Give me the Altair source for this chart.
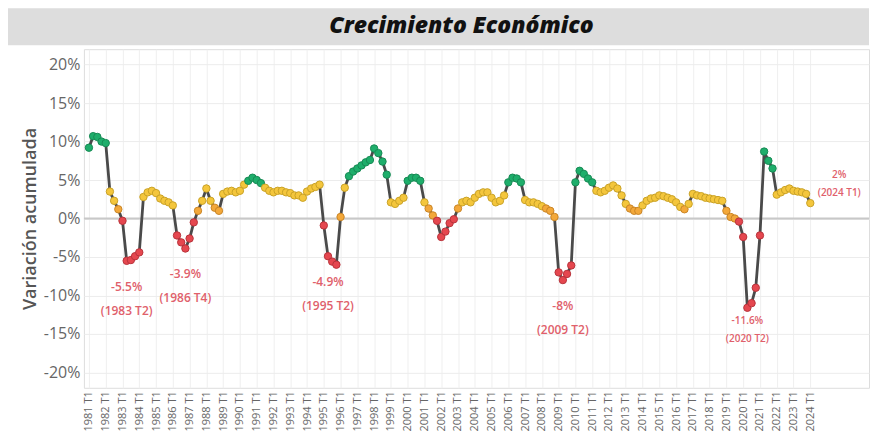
import altair as alt
import pandas as pd

# ---- data ----
first_year = 1981
values = [
    9.2, 10.7, 10.6, 10.0,    # 1981
    9.8, 3.5, 2.3, 1.2,       # 1982
    -0.3, -5.5, -5.4, -4.9,   # 1983
    -4.4, 2.8, 3.4, 3.6,      # 1984
    3.3, 2.6, 2.3, 2.1,       # 1985
    1.7, -2.2, -3.1, -3.9,    # 1986
    -2.6, -0.5, 1.0, 2.3,     # 1987
    3.9, 2.3, 1.4, 1.0,       # 1988
    3.2, 3.5, 3.6, 3.4,       # 1989
    3.6, 4.4, 4.9, 5.3,       # 1990
    5.0, 4.6, 4.0, 3.6,       # 1991
    3.4, 3.6, 3.6, 3.4,       # 1992
    3.3, 3.0, 3.0, 2.7,       # 1993
    3.5, 3.9, 4.1, 4.4,       # 1994
    -0.9, -4.9, -5.6, -6.0,   # 1995
    0.2, 4.0, 5.5, 6.1,       # 1996
    6.5, 6.9, 7.3, 7.6,       # 1997
    9.1, 8.5, 7.4, 5.7,       # 1998
    2.1, 1.9, 2.3, 2.7,       # 1999
    4.9, 5.3, 5.3, 4.9,       # 2000
    2.1, 1.3, 0.4, -0.3,      # 2001
    -2.4, -1.7, -0.6, -0.1,   # 2002
    1.3, 2.1, 2.3, 2.1,       # 2003
    2.7, 3.2, 3.4, 3.4,       # 2004
    2.7, 2.1, 2.3, 3.0,       # 2005
    4.7, 5.3, 5.2, 4.7,       # 2006
    2.4, 2.1, 2.1, 1.9,       # 2007
    1.6, 1.3, 1.0, 0.2,       # 2008
    -7.0, -8.0, -7.2, -6.1,   # 2009
    4.7, 6.2, 5.8, 5.2,       # 2010
    4.7, 3.6, 3.4, 3.6,       # 2011
    4.0, 4.3, 3.9, 3.0,       # 2012
    1.9, 1.3, 1.0, 1.0,       # 2013
    1.7, 2.3, 2.6, 2.7,       # 2014
    3.0, 2.9, 2.7, 2.5,       # 2015
    2.1, 1.5, 1.2, 1.9,       # 2016
    3.2, 3.0, 2.9, 2.7,       # 2017
    2.6, 2.5, 2.4, 2.3,       # 2018
    1.0, 0.2, 0.0, -0.4,      # 2019
    -2.4, -11.6, -11.0, -9.0, # 2020
    -2.2, 8.7, 7.5, 6.5,      # 2021
    3.1, 3.4, 3.7, 3.9,       # 2022
    3.6, 3.5, 3.4, 3.2,       # 2023
    2.0,                      # 2024
]
y_ticks = [-20, -15, -10, -5, 0, 5, 10, 15, 20]

ann_quarters = ["1983 T2", "1986 T4", "1995 T2", "2009 T2", "2020 T2", "2024 T1"]
ann_values = [-5.5, -3.9, -4.9, -8, -11.6, 2]

title_text = "Crecimiento Económico"
y_title = "Variación acumulada"

# ---- tables ----
idx = list(range(len(values)))
quarters = [f"{first_year + i // 4} T{i % 4 + 1}" for i in idx]
df = pd.DataFrame({"idx": idx, "trimestre": quarters, "valor": values})

ann = pd.DataFrame({
    "trimestre": ann_quarters,
    "valor": ann_values,
    "idx": [quarters.index(q) for q in ann_quarters],
    "l1": [f"{v:g}%" for v in ann_values],
    "l2": [f"({q})" for q in ann_quarters],
})

W, H = 786, 339
FONT = "Open Sans"
ANN_COLOR = "#e0606b"

x_enc = alt.X(
    "idx:Q",
    scale=alt.Scale(domain=[-1.2, 186], nice=False, zero=False),
    axis=alt.Axis(
        values=[i for i in idx if i % 4 == 0],
        labelExpr=f"floor({first_year} + datum.value / 4) + ' T1'",
        labelAngle=270,
        labelFontSize=11,
        labelColor="#666666",
        labelPadding=3,
        labelOverlap=False,
        title=None,
        grid=True,
        gridColor="#efefef",
        ticks=False,
        domain=False,
    ),
)
y_enc = alt.Y(
    "valor:Q",
    scale=alt.Scale(domain=[-22, 22], nice=False),
    axis=alt.Axis(
        values=y_ticks,
        labelExpr="datum.value + '%'",
        labelFontSize=16,
        labelColor="#666666",
        labelPadding=4,
        title=y_title,
        titleFontSize=18,
        titleFontWeight=600,
        titleColor="#555555",
        titlePadding=4,
        grid=True,
        gridColor="#ececec",
        ticks=False,
        domain=False,
    ),
)

fill_scale = alt.Scale(type="threshold", domain=[0, 1.5, 4.6],
                       range=["#e5474f", "#f3a83a", "#f4c63c", "#1eae6b"])
stroke_scale = alt.Scale(type="threshold", domain=[0, 1.5, 4.6],
                         range=["#b8333b", "#c98526", "#c9a227", "#178a54"])

one = alt.Data(values=[{"t": title_text}])

bar = alt.Chart(one).mark_rect(color="#dddddd").encode(
    x=alt.value(-76), x2=alt.value(W), y=alt.value(-41), y2=alt.value(-4)
)
title = alt.Chart(one).mark_text(
    font=FONT, fontSize=23, fontWeight=800, fontStyle="italic",
    color="#111111", align="center", baseline="middle"
).encode(x=alt.value(378), y=alt.value(-23), text="t:N")

zero = alt.Chart(one).mark_rule(color="#c8c8c8", strokeWidth=2).encode(
    y=alt.datum(0)
)

base = alt.Chart(df)
line = base.mark_line(color="#4a4a4a", strokeWidth=2.8).encode(x=x_enc, y=y_enc)
pts = base.mark_circle(size=55, opacity=1, strokeWidth=1).encode(
    x=x_enc, y=y_enc,
    fill=alt.Fill("valor:Q", scale=fill_scale, legend=None),
    stroke=alt.Stroke("valor:Q", scale=stroke_scale, legend=None),
)

abase = alt.Chart(ann)
troughs = ann_quarters[:4]
txt_kw = dict(font=FONT, color=ANN_COLOR, fontWeight=600, align="center", baseline="middle")

t1 = abase.transform_filter(alt.FieldOneOfPredicate(field="trimestre", oneOf=troughs)).mark_text(
    fontSize=12, dy=26, **txt_kw).encode(x=x_enc, y=y_enc, text="l1:N")
t2 = abase.transform_filter(alt.FieldOneOfPredicate(field="trimestre", oneOf=troughs)).mark_text(
    fontSize=12, dy=50, **txt_kw).encode(x=x_enc, y=y_enc, text="l2:N")
c1 = abase.transform_filter(alt.FieldEqualPredicate(field="trimestre", equal=ann_quarters[4])).mark_text(
    fontSize=10, dy=13, **txt_kw).encode(x=x_enc, y=y_enc, text="l1:N")
c2 = abase.transform_filter(alt.FieldEqualPredicate(field="trimestre", equal=ann_quarters[4])).mark_text(
    fontSize=10, dy=31, **txt_kw).encode(x=x_enc, y=y_enc, text="l2:N")
e1 = abase.transform_filter(alt.FieldEqualPredicate(field="trimestre", equal=ann_quarters[5])).mark_text(
    fontSize=10, dx=29, dy=-28, **txt_kw).encode(x=x_enc, y=y_enc, text="l1:N")
e2 = abase.transform_filter(alt.FieldEqualPredicate(field="trimestre", equal=ann_quarters[5])).mark_text(
    fontSize=10, dx=29, dy=-10, **txt_kw).encode(x=x_enc, y=y_enc, text="l2:N")

chart = alt.layer(bar, title, zero, line, pts, t1, t2, c1, c2, e1, e2).properties(
    width=W, height=H, padding=0
).configure_view(stroke=None).configure(font=FONT)

chart.save("out.html", embed_options={"renderer": "svg", "actions": False})
